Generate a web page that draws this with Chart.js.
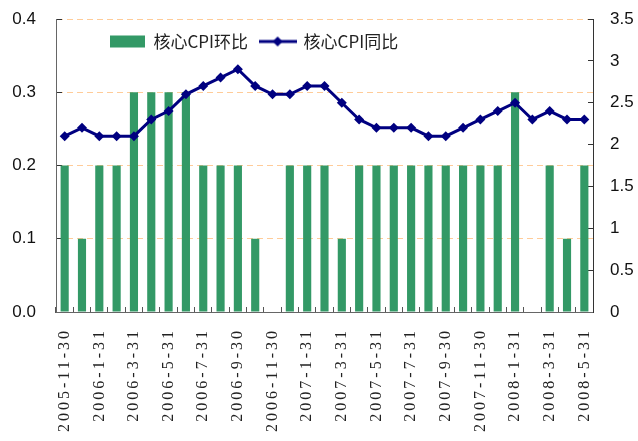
<!DOCTYPE html>
<html><head><meta charset="utf-8">
<script src="https://cdn.jsdelivr.net/npm/chart.js@4/dist/chart.umd.min.js"></script>
<style>html,body{margin:0;padding:0;background:#fff;}canvas{display:block;}</style>
</head><body>
<canvas id="c" width="638" height="441"></canvas>
<script>
const categories = ["2005-11-30","2005-12-31","2006-1-31","2006-2-28","2006-3-31","2006-4-30","2006-5-31","2006-6-30","2006-7-31","2006-8-31","2006-9-30","2006-10-31","2006-11-30","2006-12-31","2007-1-31","2007-2-28","2007-3-31","2007-4-30","2007-5-31","2007-6-30","2007-7-31","2007-8-31","2007-9-30","2007-10-31","2007-11-30","2007-12-31","2008-1-31","2008-2-29","2008-3-31","2008-4-30","2008-5-31"];
const momValues = [0.2,0.1,0.2,0.2,0.3,0.3,0.3,0.3,0.2,0.2,0.2,0.1,0,0.2,0.2,0.2,0.1,0.2,0.2,0.2,0.2,0.2,0.2,0.2,0.2,0.2,0.3,0,0.2,0.1,0.2];
const yoyValues = [2.1,2.2,2.1,2.1,2.1,2.3,2.4,2.6,2.7,2.8,2.9,2.7,2.6,2.6,2.7,2.7,2.5,2.3,2.2,2.2,2.2,2.1,2.1,2.2,2.3,2.4,2.5,2.3,2.4,2.3,2.3];
const seriesNames = ["核心CPI环比","核心CPI同比"];
const leftAxis = {min:0, max:0.4, step:0.1};
const rightAxis = {min:0, max:3.5, step:0.5};

const BAR = '#339966', LINE = '#000080';

function makeLineIcon(color){
  const c=document.createElement('canvas'); c.width=38; c.height=12;
  const g=c.getContext('2d');
  g.strokeStyle=color; g.lineWidth=3; g.beginPath(); g.moveTo(0,6); g.lineTo(38,6); g.stroke();
  g.fillStyle=color; g.beginPath(); g.moveTo(19,1); g.lineTo(24,6); g.lineTo(19,11); g.lineTo(14,6); g.closePath(); g.fill();
  return c;
}
const lineIcon = makeLineIcon(LINE);

const tweaks = {
  id:'tweaks',
  beforeLayout(chart){
    const lg = chart.legend;
    if (lg && !lg._wrapped){
      const f = lg.fit;
      lg.fit = function(){ f.call(this); this._realH = this.height; this.height = 0; };
      lg._wrapped = true;
    }
  },
  afterLayout(chart){
    const lg = chart.legend; if(!lg) return;
    lg.left = 98; lg.right = 638; lg.width = 540;
    lg.top = 21; lg.height = lg._realH || 40; lg.bottom = lg.top + lg.height;
  },
  beforeDraw(chart){
    const s = chart.scales.x;
    if (s && !s._wrapped){
      const orig = s.drawLabels;
      s.drawLabels = function(a){ const c=this.ctx; c.save(); c.letterSpacing='3px'; orig.call(this,a); c.restore(); };
      s._wrapped = true;
    }
  }
};

function noVPad(s, w){ s.width = w; s.paddingTop = 0; s.paddingBottom = 0; }

new Chart(document.getElementById('c'), {
  type:'bar',
  data:{
    labels: categories,
    datasets:[
      {type:'bar', label:seriesNames[0], data:momValues, backgroundColor:BAR, borderWidth:0,
       yAxisID:'y', order:2, categoryPercentage:1, barPercentage:0.47},
      {type:'line', label:seriesNames[1], data:yoyValues, borderColor:LINE, backgroundColor:LINE,
       borderWidth:3, pointStyle:'rectRot', pointRadius:5, pointBackgroundColor:LINE, pointBorderWidth:0,
       yAxisID:'y1', order:1, tension:0}
    ]
  },
  options:{
    responsive:false, animation:false, events:[],
    layout:{padding:{top:19,left:0,right:0,bottom:0}},
    plugins:{
      tooltip:{enabled:false},
      legend:{
        position:'top', align:'start',
        labels:{
          font:{family:'"Noto Sans CJK SC"', size:17}, color:'#222',
          usePointStyle:true, pointStyleWidth:35, boxWidth:35, boxHeight:12, padding:12,
          generateLabels(chart){
            const items = Chart.defaults.plugins.legend.labels.generateLabels(chart);
            items.sort((a,b)=>a.datasetIndex-b.datasetIndex);
            items.forEach(it=>{ it.pointStyle = it.datasetIndex===1 ? lineIcon : 'rect'; it.lineWidth=0; });
            return items;
          }
        }
      }
    },
    scales:{
      x:{
        offset:true,
        grid:{offset:true, drawOnChartArea:false, drawTicks:true, tickLength:-5, tickColor:'#555', color:'#555'},
        border:{display:true, color:'#666', width:1},
        ticks:{autoSkip:false, maxRotation:90, minRotation:90, padding:21,
          font:{family:'"Liberation Serif"', size:16}, color:'#222',
          callback:(v,i)=> i%2===0 ? categories[i] : ''},
        afterFit:(s)=>{ s.height = 129; }
      },
      y:{
        position:'left', min:leftAxis.min, max:leftAxis.max,
        grid:{color:(c)=> c.tick && c.tick.value>0.0001 ? '#FFCC99' : 'rgba(0,0,0,0)', tickColor:'#333', tickLength:-6, lineWidth:1},
        border:{display:true, color:'#666', width:1, dash:[6,4]},
        ticks:{stepSize:leftAxis.step, padding:26, font:{family:'"Liberation Sans"', size:17}, color:'#111',
          callback:(v)=> Number(v).toFixed(1)},
        afterFit:(s)=> noVPad(s, 56)
      },
      y1:{
        position:'right', min:rightAxis.min, max:rightAxis.max,
        grid:{drawOnChartArea:false, tickColor:'#333', tickLength:-5, color:'#333'},
        border:{display:true, color:'#333', width:1},
        ticks:{stepSize:rightAxis.step, padding:22, font:{family:'"Liberation Sans"', size:17}, color:'#111',
          callback:(v)=> String(Number(Number(v).toFixed(2)))},
        afterFit:(s)=> noVPad(s, 45)
      }
    }
  },
  plugins:[tweaks]
});
</script>
</body></html>
